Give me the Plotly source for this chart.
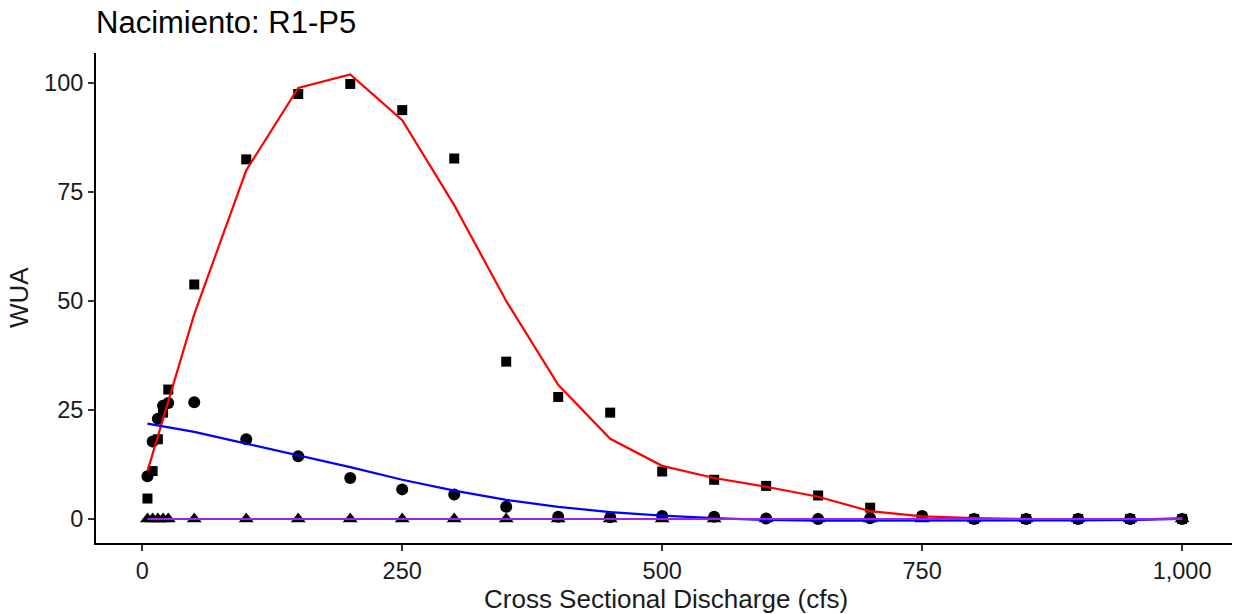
import plotly.graph_objects as go

discharge = [5, 10, 15, 20, 25, 50, 100, 150, 200, 250, 300, 350, 400, 450, 500,
             550, 600, 650, 700, 750, 800, 850, 900, 950, 1000]

# observed WUA (squares, circles, triangles)
wua_square = [4.7, 11.0, 18.3, 24.4, 29.7, 53.8, 82.5, 97.5, 99.8, 93.8, 82.7, 36.1,
              28.0, 24.4, 10.9, 9.0, 7.6, 5.4, 2.6, 0.5, 0.0, 0.0, 0.0, 0.0, 0.0]
wua_circle = [9.8, 17.8, 23.0, 26.0, 26.6, 26.8, 18.3, 14.4, 9.4, 6.8, 5.6, 2.8,
              0.5, 0.4, 0.7, 0.5, 0.1, 0.0, 0.2, 0.7, 0.0, 0.0, 0.0, 0.0, 0.0]
wua_triangle = [0.0] * 25

# fitted curves
fit_red = [11.0, 15.0, 19.0, 23.0, 27.0, 47.0, 80.0, 98.9, 102.0, 91.5, 72.0, 50.0,
           30.8, 18.4, 12.2, 9.4, 7.4, 5.1, 1.8, 0.6, 0.2, 0.0, -0.2, -0.2, 0.2]
fit_blue = [21.9, 21.7, 21.5, 21.3, 21.1, 20.0, 17.3, 14.6, 11.9, 9.0, 6.5, 4.4,
            2.8, 1.6, 0.8, 0.2, -0.2, -0.4, -0.4, -0.4, -0.4, -0.3, -0.3, -0.2, 0.0]
fit_purple = [0.0] * 25

x_ticks = [0, 250, 500, 750, 1000]
x_ticklabels = ["0", "250", "500", "750", "1,000"]
y_ticks = [0, 25, 50, 75, 100]

FONT = "Liberation Sans, Arial, sans-serif"
TXT = "#1a1a1a"

fig = go.Figure()
fig.add_trace(go.Scatter(x=discharge, y=wua_square, mode="markers",
                         marker=dict(symbol="square", size=10, color="black"), showlegend=False))
fig.add_trace(go.Scatter(x=discharge, y=wua_circle, mode="markers",
                         marker=dict(symbol="circle", size=12, color="black"), showlegend=False))
fig.add_trace(go.Scatter(x=discharge, y=wua_triangle, mode="markers",
                         marker=dict(symbol="triangle-up", size=13, color="black"), showlegend=False))
fig.add_trace(go.Scatter(x=discharge, y=fit_red, mode="lines",
                         line=dict(color="red", width=2.2), showlegend=False))
fig.add_trace(go.Scatter(x=discharge, y=fit_blue, mode="lines",
                         line=dict(color="blue", width=2.2), showlegend=False))
fig.add_trace(go.Scatter(x=discharge, y=fit_purple, mode="lines",
                         line=dict(color="#a020f0", width=2.2), showlegend=False))

fig.update_layout(
    width=1236, height=614,
    margin=dict(l=96, r=4, t=53, b=71, autoexpand=False),
    paper_bgcolor="white", plot_bgcolor="white",
    font=dict(family=FONT, color=TXT),
    title=dict(text="Nacimiento: R1-P5", x=0, xanchor="left", xref="paper",
               y=1 - 22/614, yanchor="middle", yref="container",
               font=dict(size=31, color="black", family=FONT)),
    xaxis=dict(range=[-44.5, 1048], tickvals=x_ticks, ticktext=x_ticklabels,
               automargin=False,
               showgrid=False, zeroline=False, showline=True, linecolor="black", linewidth=2,
               ticks="outside", ticklen=6, tickwidth=1.5, tickcolor="#333333",
               tickfont=dict(size=23.5, color=TXT)),
    yaxis=dict(range=[-5.5, 106.9], tickvals=y_ticks, automargin=False,
               showgrid=False, zeroline=False, showline=True, linecolor="black", linewidth=2,
               ticks="outside", ticklen=6, tickwidth=1.5, tickcolor="#333333",
               tickfont=dict(size=23.5, color=TXT)),
    annotations=[
        dict(text="WUA", textangle=-90, xref="paper", yref="paper",
             x=0, y=0.5, xanchor="center", yanchor="middle",
             xshift=-77, showarrow=False, font=dict(size=26, color=TXT)),
        dict(text="Cross Sectional Discharge (cfs)", xref="paper", yref="paper",
             x=(666 - 96) / 1136, y=0, xanchor="center", yanchor="middle",
             yshift=-(599 - 543), showarrow=False, font=dict(size=26, color=TXT)),
    ],
)

fig.write_html("out.html", config={"displayModeBar": False},
               post_script="document.body.style.margin='0';document.body.style.overflow='hidden';")
